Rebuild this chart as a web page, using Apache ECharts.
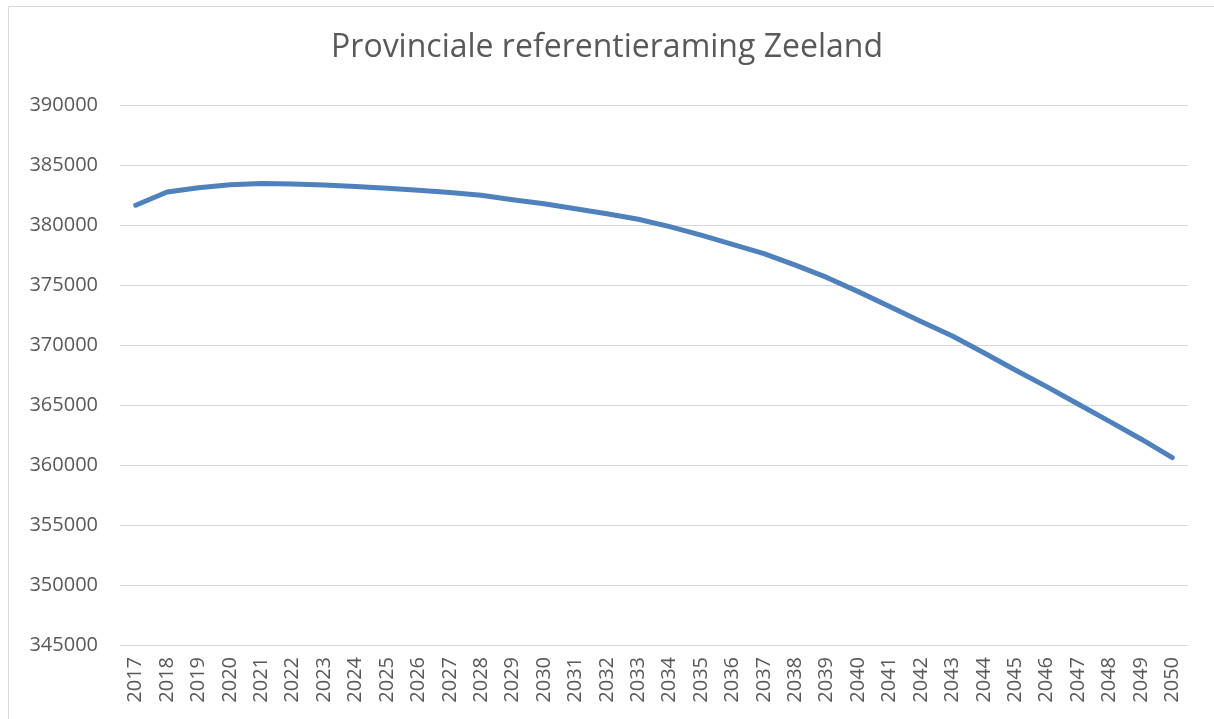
<!DOCTYPE html>
<html>
<head>
<meta charset="utf-8">
<script src="https://cdn.jsdelivr.net/npm/echarts@6/dist/echarts.min.js"></script>
<style>
  html, body { margin: 0; padding: 0; background: #fff; }
  #chart { width: 1214px; height: 719px; }
</style>
</head>
<body>
<div id="chart"></div>
<script>
const chartTitle = 'Provinciale referentieraming Zeeland'

const years = [
  '2017', '2018', '2019', '2020', '2021', '2022', '2023', '2024', '2025', '2026',
  '2027', '2028', '2029', '2030', '2031', '2032', '2033', '2034', '2035', '2036',
  '2037', '2038', '2039', '2040', '2041', '2042', '2043', '2044', '2045', '2046',
  '2047', '2048', '2049', '2050'
]

const population = [
  381650, 382750, 383100, 383350, 383450, 383420, 383330, 383200, 383060, 382900,
  382710, 382480, 382100, 381770, 381350, 380930, 380480, 379860, 379150, 378390,
  377620, 376660, 375630, 374450, 373200, 371950, 370750, 369360, 367920, 366530,
  365080, 363640, 362170, 360620
]

const yMin = 345000
const yMax = 390000
const yStep = 5000

const textColor = '#595959'
const gridColor = '#d9d9d9'
const lineColor = '#4f81bd'

const chart = echarts.init(document.getElementById('chart'))

const option = {
  animation: false,
  title: {
    text: chartTitle,
    left: 'center',
    top: 27,
    textStyle: {
      fontFamily: 'Open Sans',
      fontSize: 32,
      fontWeight: 'normal',
      color: textColor
    }
  },
  grid: {
    left: 120,
    right: 26,
    top: 105,
    bottom: 74
  },
  xAxis: {
    type: 'category',
    data: years,
    boundaryGap: true,
    axisLine: { show: true, lineStyle: { color: gridColor, width: 1 } },
    axisTick: { show: false },
    axisLabel: {
      rotate: 90,
      interval: 0,
      margin: 12,
      fontFamily: 'Open Sans',
      fontSize: 20,
      color: textColor
    }
  },
  yAxis: {
    type: 'value',
    min: yMin,
    max: yMax,
    interval: yStep,
    axisLine: { show: false },
    axisTick: { show: false },
    splitLine: { lineStyle: { color: gridColor, width: 1 } },
    axisLabel: {
      margin: 22,
      fontFamily: 'Open Sans',
      fontSize: 20,
      color: textColor,
      formatter: v => String(v)
    }
  },
  series: [
    {
      name: 'Zeeland',
      type: 'line',
      data: population,
      showSymbol: false,
      smooth: false,
      lineStyle: { color: lineColor, width: 5, cap: 'round', join: 'round' }
    }
  ],
  graphic: [
    {
      type: 'polyline',
      silent: true,
      shape: { points: [[8.5, 719], [8.5, 6.5], [1214, 6.5]] },
      style: { fill: null, stroke: gridColor, lineWidth: 1 }
    }
  ]
}

chart.setOption(option)
</script>
</body>
</html>
